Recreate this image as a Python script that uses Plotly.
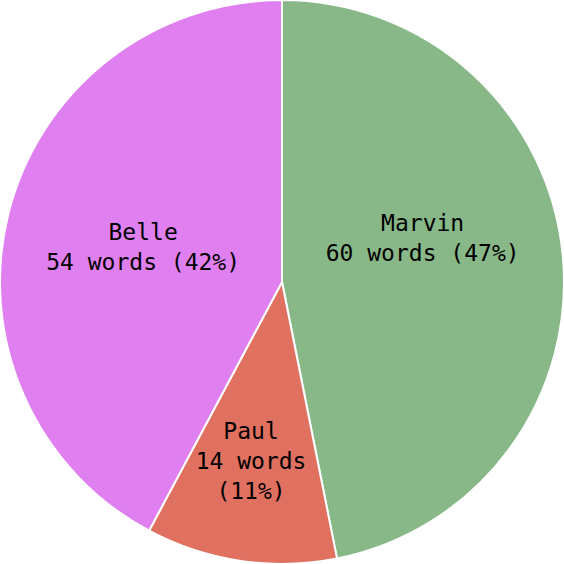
import plotly.graph_objects as go

names = ["Marvin", "Paul", "Belle"]
words = [60, 14, 54]
colors = ["#88b888", "#e07060", "#e080f0"]

total = sum(words)
texts = []
for n, w in zip(names, words):
    pct = round(100 * w / total)
    if n == "Paul":
        texts.append(f"{n}<br>{w} words<br>({pct}%)<br> <br> ")
    elif n == "Marvin":
        texts.append(f"{n}<br>{w} words ({pct}%)<br> <br> ")
    else:
        texts.append(f"{n}<br>{w} words ({pct}%)")

fig = go.Figure(go.Pie(
    labels=names,
    values=words,
    text=texts,
    textinfo="text",
    textposition="inside",
    insidetextorientation="horizontal",
    sort=False,
    direction="clockwise",
    rotation=0,
    marker=dict(colors=colors, line=dict(color="white", width=2)),
    textfont=dict(family="DejaVu Sans Mono", size=23, color="black"),
    showlegend=False,
    hoverinfo="none",
))
fig.update_layout(
    width=564, height=564,
    margin=dict(l=0, r=0, t=0, b=0),
    paper_bgcolor="white",
    uniformtext=dict(minsize=23, mode="show"),
)
fig.write_html("out.html")
